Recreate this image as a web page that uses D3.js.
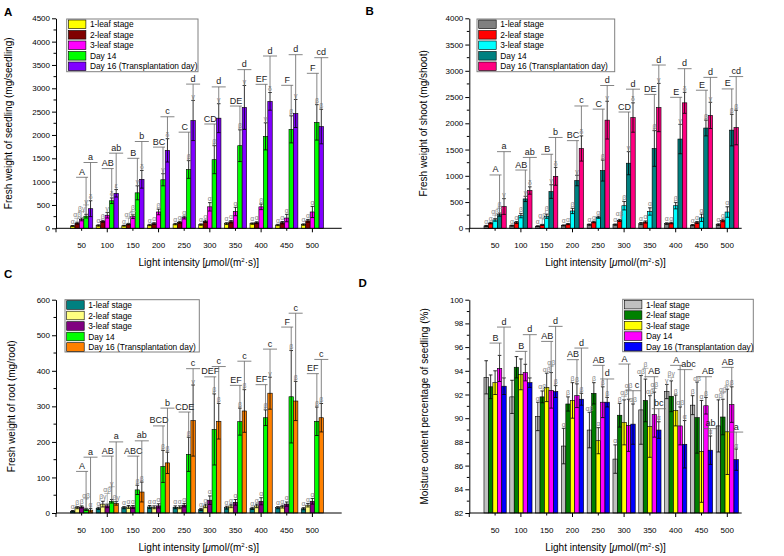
<!DOCTYPE html>
<html><head><meta charset="utf-8">
<script src="https://cdn.jsdelivr.net/npm/d3@7"></script>
<style>
body{margin:0;background:#fff}
svg{display:block}
text{font-family:"Liberation Sans",Arial,sans-serif}
</style>
</head><body>
<svg id="c" width="784" height="556"></svg>
<script>
// ---------------- DATA ----------------
const lightIntensity = [50,100,150,200,250,300,350,400,450,500];
const stageNames = ["1-leaf stage","2-leaf stage","3-leaf stage","Day 14","Day 16 (Transplantation day)"];

// Panel A: fresh weight of seedling (mg/seedling); rows = stages
const seedlingMean = [
  [50,60,55,70,90,80,100,100,70,80],
  [110,150,90,100,130,150,140,120,120,160],
  [190,280,250,350,230,460,360,460,220,350],
  [260,590,760,1040,1260,1470,1770,1970,2120,2270],
  [420,750,1050,1670,2310,2360,2590,2720,2460,2180]];
const seedlingSD = [
  [10,15,10,15,15,15,20,15,15,15],
  [20,20,15,20,20,25,25,20,25,30],
  [30,60,40,60,30,90,90,60,80,120],
  [40,60,150,130,190,300,340,290,290,380],
  [170,80,190,250,430,310,470,190,300,370]];
const seedlingGreek = [
  ["α","α","α","α","α","α","α","α","α","α"],
  ["αβ","β","αβ","α","α","α","α","α","α","α"],
  ["βγ","γ","β","β","α","α","α","β","α","α"],
  ["γ","δ","γ","γ","β","β","β","γ","β","β"],
  ["δ","ε","δ","δ","γ","γ","γ","δ","γ","β"]];
const seedlingDay14Letters = ["A","AB","B","BC","C","CD","DE","EF","F","F"];
const seedlingDay14LetterLevel = [1093,1280,1500,1740,2060,2235,2620,3085,3064,3321];
const seedlingDay16Letters = ["a","ab","b","c","d","d","d","d","d","cd"];
const seedlingDay16LetterLevel = [1410,1610,1860,2390,3090,3030,3400,3692,3720,3656];

// Panel B: fresh weight of shoot (mg/shoot)
const shootMean = [
  [45,50,40,55,70,70,90,90,60,70],
  [100,110,65,80,120,150,120,100,110,150],
  [160,240,230,330,210,430,320,430,200,310],
  [260,560,700,910,1100,1240,1520,1700,1910,1870],
  [415,720,990,1520,2060,2110,2300,2390,2150,1920]];
const shootSD = [
  [10,10,8,10,12,12,20,15,12,15],
  [15,20,10,12,15,20,20,15,20,25],
  [25,40,40,50,20,80,70,60,70,100],
  [30,50,130,100,200,220,340,280,150,300],
  [150,70,170,240,360,280,460,200,250,330]];
const shootGreek = [
  ["α","α","α","α","α","α","α","α","α","α"],
  ["α","α","αβ","α","α","αβ","α","α","α","α"],
  ["αβ","β","β","β","α","β","α","β","α","α"],
  ["β","γ","γ","γ","β","γ","β","γ","β","β"],
  ["γ","δ","δ","δ","γ","δ","γ","δ","γ","β"]];
const shootDay14Letters = ["A","AB","B","BC","C","CD","DE","E","E","E"];
const shootDay14LetterLevel = [1016,1110,1410,1670,2270,2215,2550,2495,2630,2655];
const shootDay16Letters = ["a","ab","b","c","d","d","d","d","d","cd"];
const shootDay16LetterLevel = [1460,1350,1730,2330,2720,2650,3110,3040,2875,2890];

// Panel C: fresh weight of root (mg/root)
const rootMean = [
  [5,13,15,17,16,10,15,13,15,12],
  [15,25,17,16,16,20,20,20,18,22],
  [17,20,17,20,22,36,30,33,25,33],
  [10,33,65,131,165,235,257,268,327,258],
  [8,27,59,141,260,258,287,337,315,268]];
const rootSD = [
  [2,3,3,4,4,3,4,3,3,3],
  [3,8,4,4,4,5,5,5,4,5],
  [3,5,4,6,5,12,8,10,6,8],
  [3,5,13,45,48,100,38,22,130,40],
  [5,5,28,30,100,50,60,45,55,40]];
const rootGreek = [
  ["α","α","α","α","α","α","α","α","α","α"],
  ["β","βγ","α","α","α","α","α","α","α","α"],
  ["β","αβ","α","α","α","α","α","α","α","α"],
  ["αβ","γ","β","β","β","β","β","β","β","β"],
  ["α","βγ","β","β","γ","β","β","γ","β","β"]];
const rootDay14Letters = ["A","AB","ABC","BCD","CDE","DEF","EF","EF","F","EF"];
const rootDay14LetterLevel = [117,160,160,245,284,383,359,361,523,392];
const rootDay16Letters = ["a","a","ab","b","c","c","c","c","c","c"];
const rootDay16LetterLevel = [157,200,203,295,406,412,427,461,562,432];

// Panel D: moisture content percentage of seedling (%)
const moistureMean = [
  [93.45,91.8,90.15,87.65,89.0,86.55,90.7,92.25,91.1,89.35],
  [92.65,94.3,91.8,91.2,92.1,90.25,91.5,91.85,90.05,90.1],
  [93.0,93.7,92.6,91.5,88.1,89.65,89.3,90.65,87.2,88.85],
  [94.2,93.85,92.35,91.9,91.35,89.4,90.3,89.35,91.05,91.15],
  [92.7,93.0,92.25,91.6,91.35,89.5,89.0,87.8,87.3,86.5]];
const moistureSD = [
  [1.4,1.4,1.2,1.5,1.5,1.2,2.9,0.6,0.8,2.2],
  [1.0,0.9,0.5,0.6,0.9,1.0,1.8,1.3,3.0,1.5],
  [1.0,1.3,1.2,1.5,1.1,1.9,2.6,1.3,4.3,3.6],
  [1.1,0.7,1.5,1.0,1.3,2.2,1.9,1.6,0.7,1.5],
  [0.7,0.4,0.5,0.5,0.4,1.7,0.7,2.0,1.2,0.9]];
const moistureGreek = [
  ["","","α","α","αβ","α","αβ","γ","β","αβ"],
  ["","","αβ","β","β","β","β","βγ","αβ","αβ"],
  ["","","αβ","β","α","αβ","αβ","β","α","β"],
  ["","","αβ","β","β","αβ","αβ","αβ","β","β"],
  ["","","β","β","β","αβ","α","α","α","α"]];
const moistureDay14Letters = ["B","B","AB","AB","AB","A","AB","A","AB","AB"];
const moistureDay14LetterLevel = [96.34,95.64,96.48,94.94,94.46,94.57,93.5,94.46,93.5,94.29];
const moistureDay16Letters = ["d","d","d","d","d","c","bc","abc","ab","a"];
const moistureDay16LetterLevel = [97.69,97.05,97.75,95.92,93.31,92.32,90.8,94.1,89.12,88.83];

const colorsA = ["#FFFF00","#800000","#FF00FF","#00FF00","#8000FF"];
const colorsB = ["#808080","#FF0000","#00FFFF","#008080","#FF0080"];
const colorsC = ["#008080","#FFFF80","#800080","#00FF00","#FF8000"];
const colorsD = ["#C0C0C0","#008000","#FFFF00","#FF00FF","#0000FF"];

// ---------------- DRAWING ----------------
const svg = d3.select("#c");
const FONT = '"Liberation Sans",Arial,sans-serif';

function overlaps(a, b) {
  return a.x0 < b.x1 && b.x0 < a.x1 && a.y0 < b.y1 && b.y0 < a.y1;
}

function panel(o) {
  const x = d3.scaleLinear().domain([0, 500]).range([o.left, o.x500]);
  const y = d3.scaleLinear().domain(o.yDomain).range([o.bottom, o.top]);
  const g = svg.append("g");
  const bw = 4.45;
  const base = o.yDomain[0];
  const bx = (si, ci) => x(lightIntensity[ci]) + (si - 2) * bw;

  const flat = [];
  o.mean.forEach((row, si) => row.forEach((v, ci) =>
    flat.push({si, ci, v, sd: o.sd[si][ci], gk: o.greek[si][ci]})));

  // bars
  g.selectAll("rect.bar").data(flat).join("rect")
    .attr("x", d => bx(d.si, d.ci) - bw / 2)
    .attr("y", d => y(d.v))
    .attr("width", bw)
    .attr("height", d => y(base) - y(d.v))
    .attr("fill", d => o.colors[d.si])
    .attr("stroke", "#000").attr("stroke-width", 0.6);

  // error bars
  const lo = d => Math.max(base, d.v - d.sd);
  const hi = d => d.v + d.sd;
  const eb = g.selectAll("g.eb").data(flat).join("g").attr("stroke", "#000").attr("stroke-width", 0.8);
  eb.append("line").attr("x1", d => bx(d.si, d.ci)).attr("x2", d => bx(d.si, d.ci))
    .attr("y1", d => y(lo(d))).attr("y2", d => y(hi(d)));
  eb.append("line").attr("x1", d => bx(d.si, d.ci) - 1.8).attr("x2", d => bx(d.si, d.ci) + 1.8)
    .attr("y1", d => y(hi(d))).attr("y2", d => y(hi(d)));
  eb.filter(d => d.v - d.sd > base).append("line")
    .attr("x1", d => bx(d.si, d.ci) - 1.8).attr("x2", d => bx(d.si, d.ci) + 1.8)
    .attr("y1", d => y(lo(d))).attr("y2", d => y(lo(d)));

  // greek letters: stagger upward when neighbours collide
  const gkFs = 6.8, gkH = 6.4;
  const placed = [];
  const gks = flat.filter(d => d.gk).sort((a, b) => a.ci - b.ci || a.si - b.si);
  gks.forEach(d => {
    const w = d.gk.length * 4.0;
    const cx = bx(d.si, d.ci);
    const top0 = y(d.v + d.sd);
    let yb = top0 - 1.5;
    let moved = true, guard = 0;
    while (moved && guard++ < 20) {
      moved = false;
      for (const p of placed) {
        if (Math.abs(p.cx - cx) < (p.w + w) / 2 + 0.3 && yb > p.yb - gkH && yb - gkH < p.yb) {
          yb = p.yb - gkH - 0.3; moved = true;
        }
      }
    }
    d.gx = cx; d.gy = yb; d.gw = w; d.gtop = top0;
    placed.push({cx, w, yb});
  });
  const gkBoxes = gks.map(d => ({x0: d.gx - d.gw / 2 - 0.5, x1: d.gx + d.gw / 2 + 0.5, y0: d.gy - 6.2, y1: d.gy + 1.8}));
  const gkG = g.selectAll("g.gk").data(gks).join("g");
  gkG.filter(d => d.gtop - d.gy > 4).append("line")
    .attr("x1", d => d.gx).attr("x2", d => d.gx).attr("y1", d => d.gy + 1).attr("y2", d => d.gtop)
    .attr("stroke", "#9a9a9a").attr("stroke-width", 0.7);
  gkG.filter(d => d.gtop - d.gy > 4).append("line")
    .attr("x1", d => d.gx - 3).attr("x2", d => d.gx + 3).attr("y1", d => d.gy + 1).attr("y2", d => d.gy + 1)
    .attr("stroke", "#9a9a9a").attr("stroke-width", 0.7);
  gkG.append("text").attr("x", d => d.gx).attr("y", d => d.gy)
    .attr("text-anchor", "middle").attr("font-size", gkFs).attr("fill", "#808080")
    .text(d => d.gk);

  // significance letters (Day 14 uppercase, Day 16 lowercase)
  const letters = [];
  lightIntensity.forEach((c, ci) => {
    letters.push({si: 3, ci, t: o.up[ci], lv: o.upLv[ci], l: -10, r: 2, tx: -4});
    letters.push({si: 4, ci, t: o.lo[ci], lv: o.loLv[ci], l: -7, r: 7, tx: 0});
  });
  // nudge letter text sideways if it collides with greek labels or other letters
  const letterBoxes = [];
  letters.forEach(d => {
    const w = d.t.length * 5.9;
    const ty = y(d.lv) - 2.5;
    const cx0 = bx(d.si, d.ci) + d.tx;
    const tries = [0, 2, 4, 6, 8, 10, 12, -2, -4, -6, -8, 14, 16];
    let best = 0;
    for (const dx of tries) {
      const box = {x0: cx0 + dx - w / 2, x1: cx0 + dx + w / 2, y0: ty - 7.2, y1: ty + 2};
      if (!gkBoxes.some(b => overlaps(b, box)) && !letterBoxes.some(b => overlaps(b, box))) { best = dx; break; }
    }
    d.dx = best;
    letterBoxes.push({x0: cx0 + best - w / 2, x1: cx0 + best + w / 2, y0: ty - 7.2, y1: ty + 2});
  });
  const lg = g.selectAll("g.sig").data(letters).join("g");
  lg.append("line").attr("stroke", "#666").attr("stroke-width", 0.8)
    .attr("x1", d => bx(d.si, d.ci)).attr("x2", d => bx(d.si, d.ci))
    .attr("y1", d => y(d.lv)).attr("y2", d => y(o.mean[d.si][d.ci] + o.sd[d.si][d.ci]));
  lg.append("line").attr("stroke", "#666").attr("stroke-width", 0.8)
    .attr("x1", d => bx(d.si, d.ci) + Math.min(d.l, d.tx + d.dx - 4)).attr("x2", d => bx(d.si, d.ci) + Math.max(d.r, d.tx + d.dx + 4))
    .attr("y1", d => y(d.lv)).attr("y2", d => y(d.lv));
  lg.append("text").attr("x", d => bx(d.si, d.ci) + d.tx + d.dx).attr("y", d => y(d.lv) - 2.5)
    .attr("text-anchor", "middle").attr("font-size", 9).attr("fill", "#222").text(d => d.t);

  // y axis
  const ya = d3.axisLeft(y).tickValues(o.yTicks).tickFormat(d3.format("d"))
    .tickSize(4).tickPadding(2).tickSizeOuter(0);
  const yg = g.append("g").attr("transform", `translate(${o.left},0)`).call(ya);
  yg.selectAll("text").attr("font-size", 8).attr("font-family", FONT).attr("fill", "#000");
  yg.selectAll("line,path").attr("stroke", "#000");
  g.selectAll("line.ymin").data(o.yMinor).join("line")
    .attr("x1", o.left - 2.5).attr("x2", o.left).attr("y1", d => y(d)).attr("y2", d => y(d))
    .attr("stroke", "#000");

  // x axis
  g.append("line").attr("x1", o.left).attr("x2", o.axisEnd).attr("y1", o.bottom).attr("y2", o.bottom)
    .attr("stroke", "#000");
  g.selectAll("line.xt").data([0,100,200,300,400,500]).join("line")
    .attr("x1", d => x(d)).attr("x2", d => x(d)).attr("y1", o.bottom).attr("y2", o.bottom + 4)
    .attr("stroke", "#000");
  g.selectAll("line.xm").data([50,150,250,350,450]).join("line")
    .attr("x1", d => x(d)).attr("x2", d => x(d)).attr("y1", o.bottom).attr("y2", o.bottom + 2.5)
    .attr("stroke", "#000");
  g.selectAll("text.xl").data(lightIntensity).join("text")
    .attr("x", d => x(d)).attr("y", o.bottom + 20).attr("text-anchor", "middle")
    .attr("font-size", 8).text(d => d);

  // x title
  const xt = g.append("text").attr("x", (o.left + o.axisEnd) / 2).attr("y", o.bottom + 38)
    .attr("text-anchor", "middle").attr("font-size", 10);
  xt.append("tspan").text("Light intensity [");
  xt.append("tspan").attr("font-style", "italic").text("μ");
  xt.append("tspan").text("mol/(m");
  xt.append("tspan").attr("font-size", 6).attr("dy", -4).text("2");
  xt.append("tspan").attr("dy", 4).text("·s)]");

  // y title
  g.append("text").attr("transform", `translate(${o.yTitleX},${(o.top + o.bottom) / 2}) rotate(-90)`)
    .attr("text-anchor", "middle").attr("dy", "0.35em").attr("font-size", 10).text(o.yTitle);

  // panel letter
  g.append("text").attr("x", o.tagX).attr("y", o.tagY).attr("font-size", 11.5)
    .attr("font-weight", "bold").text(o.tag);

  // legend
  const L = o.legend;
  g.append("rect").attr("x", L.x).attr("y", L.y).attr("width", L.w).attr("height", L.h)
    .attr("fill", "#fff").attr("stroke", "#808080").attr("stroke-width", 1);
  const li = g.selectAll("g.li").data(stageNames).join("g")
    .attr("transform", (d, i) => `translate(${L.x + 1.7},${L.y + 5.3 + i * 10.5})`);
  li.append("rect").attr("x", 0).attr("y", -4.3).attr("width", 17.5).attr("height", 8.6)
    .attr("fill", (d, i) => o.colors[i]).attr("stroke", "#000").attr("stroke-width", 0.6);
  li.append("text").attr("x", 21.5).attr("y", 3).attr("font-size", 8.4).text(d => d);
}

panel({left: 56, x500: 312.4, axisEnd: 341.7, top: 18.3, bottom: 228.3, yDomain: [0, 4500],
  yTicks: d3.range(0, 4501, 500), yMinor: d3.range(250, 4500, 500),
  mean: seedlingMean, sd: seedlingSD, greek: seedlingGreek,
  up: seedlingDay14Letters, upLv: seedlingDay14LetterLevel, lo: seedlingDay16Letters, loLv: seedlingDay16LetterLevel,
  colors: colorsA, yTitle: "Fresh weight of seedling (mg/seedling)", yTitleX: 8.5,
  tag: "A", tagX: 4, tagY: 16, legend: {x: 66.7, y: 19, w: 131.3, h: 52.7}});

panel({left: 469.3, x500: 727.3, axisEnd: 741.7, top: 18.3, bottom: 228.3, yDomain: [0, 4000],
  yTicks: d3.range(0, 4001, 500), yMinor: d3.range(250, 4000, 500),
  mean: shootMean, sd: shootSD, greek: shootGreek,
  up: shootDay14Letters, upLv: shootDay14LetterLevel, lo: shootDay16Letters, loLv: shootDay16LetterLevel,
  colors: colorsB, yTitle: "Fresh weight of shoot (mg/shoot)", yTitleX: 423.7,
  tag: "B", tagX: 365.5, tagY: 15, legend: {x: 477, y: 19, w: 137.7, h: 52.7}});

panel({left: 56, x500: 312.4, axisEnd: 341.7, top: 299.7, bottom: 513, yDomain: [0, 600],
  yTicks: d3.range(0, 601, 100), yMinor: d3.range(50, 600, 100),
  mean: rootMean, sd: rootSD, greek: rootGreek,
  up: rootDay14Letters, upLv: rootDay14LetterLevel, lo: rootDay16Letters, loLv: rootDay16LetterLevel,
  colors: colorsC, yTitle: "Fresh weight of root (mg/root)", yTitleX: 11,
  tag: "C", tagX: 4, tagY: 277.5, legend: {x: 65, y: 299.7, w: 134.3, h: 52.3}});

panel({left: 469.3, x500: 727.3, axisEnd: 741.7, top: 299.7, bottom: 513, yDomain: [82, 100],
  yTicks: d3.range(82, 100.1, 2), yMinor: d3.range(83, 100, 2),
  mean: moistureMean, sd: moistureSD, greek: moistureGreek,
  up: moistureDay14Letters, upLv: moistureDay14LetterLevel, lo: moistureDay16Letters, loLv: moistureDay16LetterLevel,
  colors: colorsD, yTitle: "Moisture content percentage of seedling (%)", yTitleX: 424,
  tag: "D", tagX: 358.5, tagY: 287, legend: {x: 622.7, y: 299.3, w: 130.6, h: 52.4}});
</script>
</body></html>
